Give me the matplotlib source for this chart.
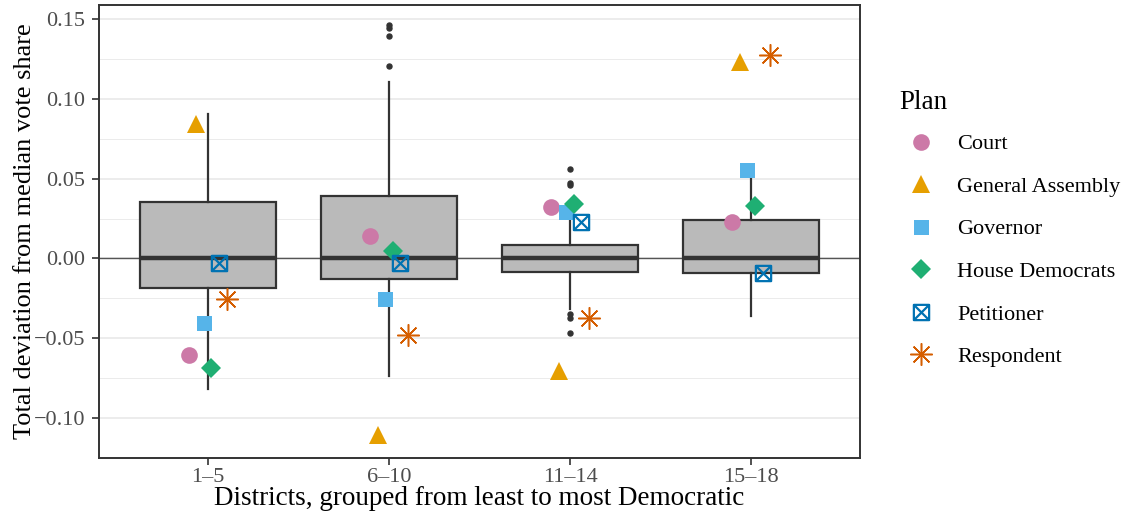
import matplotlib.pyplot as plt
from matplotlib.path import Path
import numpy as np

plt.rcParams['font.family'] = ['Liberation Serif', 'DejaVu Serif']

groups = ['1–5', '6–10', '11–14', '15–18']

# box summaries per district group
q1 = [-0.0188, -0.0131, -0.0083, -0.0094]
q3 = [0.0353, 0.0394, 0.0083, 0.0238]
med = [0.0, 0.0, 0.0, 0.0]
whislo = [-0.0820, -0.0738, -0.0315, -0.0360]
whishi = [0.0906, 0.1106, 0.0300, 0.0556]
fliers = [[],
          [0.1465, 0.1445, 0.1395, 0.1205],
          [0.0560, 0.0472, 0.0458, -0.0345, -0.0375, -0.0465],
          []]

plans = ['Court', 'General Assembly', 'Governor', 'House Democrats',
         'Petitioner', 'Respondent']
court = [-0.0606, 0.0138, 0.0325, 0.0231]
general_assembly = [0.0840, -0.1106, -0.0706, 0.1230]
governor = [-0.0406, -0.0256, 0.0288, 0.0556]
house_democrats = [-0.0688, 0.0044, 0.0344, 0.0331]
petitioner = [-0.0030, -0.0030, 0.0231, -0.0094]
respondent = [-0.0256, -0.0480, -0.0370, 0.1275]
plan_values = [court, general_assembly, governor, house_democrats,
               petitioner, respondent]

colors = ['#CC79A7', '#E69F00', '#56B4E9', '#1FAF73', '#0072B2', '#D55E00']

# square with an X through it
box_x = Path([(-1, -1), (1, -1), (1, 1), (-1, 1), (-1, -1),
              (-1, -1), (1, 1), (-1, 1), (1, -1)],
             [Path.MOVETO, Path.LINETO, Path.LINETO, Path.LINETO, Path.CLOSEPOLY,
              Path.MOVETO, Path.LINETO, Path.MOVETO, Path.LINETO])
markers = ['o', '^', 's', 'D', box_x, (8, 2, 0)]
msizes = [12.0, 13.5, 10.8, 10.0, 11.0, 16.0]
edge_w = [0, 0, 0, 0, 1.6, 1.1]

fig = plt.figure(figsize=(11.25, 5.18), dpi=100)
ax = fig.add_axes([0.088, 0.1158, 0.6764, 0.8745])

x = np.arange(1, len(groups) + 1)

ax.axhline(0, color='#555555', lw=1.0, zorder=1)

stats = []
for i in range(len(groups)):
    stats.append(dict(med=med[i], q1=q1[i], q3=q3[i], whislo=whislo[i],
                      whishi=whishi[i], fliers=fliers[i]))
ax.bxp(stats, positions=x, widths=0.75, patch_artist=True, showcaps=False,
       boxprops=dict(facecolor='#BABABA', edgecolor='#333333', linewidth=1.6),
       medianprops=dict(color='#333333', linewidth=3.2, solid_capstyle='butt'),
       whiskerprops=dict(color='#333333', linewidth=1.6),
       flierprops=dict(marker='o', markersize=3.6, markerfacecolor='#333333',
                       markeredgecolor='#333333'),
       zorder=2)

dodge = 0.25
n = len(plans)
for k, (name, vals) in enumerate(zip(plans, plan_values)):
    off = (k - (n - 1) / 2) * dodge / n
    hollow = edge_w[k] > 0
    ax.plot(x + off, vals, linestyle='none', marker=markers[k],
            markersize=msizes[k], color=colors[k],
            markerfacecolor='none' if hollow else colors[k],
            markeredgecolor=colors[k], markeredgewidth=edge_w[k],
            label=name, zorder=3)

ax.set_xlim(0.4, 4.6)
ax.set_ylim(-0.1244, 0.15875)
ax.set_xticks(x)
ax.set_xticklabels(groups)
ax.set_yticks([-0.10, -0.05, 0.00, 0.05, 0.10, 0.15])
ax.set_yticklabels(['−0.10', '−0.05', '0.00', '0.05', '0.10', '0.15'])
ax.set_yticks(np.arange(-0.125, 0.16, 0.05), minor=True)
ax.grid(axis='y', which='major', color='#EBEBEB', lw=1.3, zorder=0)
ax.grid(axis='y', which='minor', color='#EBEBEB', lw=0.7, zorder=0)
ax.set_axisbelow(True)
ax.tick_params(axis='both', which='major', length=5, width=1.2, color='#333333',
               labelsize=16, labelcolor='#4D4D4D')
ax.tick_params(axis='x', pad=2.5)
ax.tick_params(axis='y', pad=4.7)
ax.tick_params(axis='y', which='minor', length=0)
for s in ax.spines.values():
    s.set_color('#333333')
    s.set_linewidth(1.4)

ax.set_xlabel('Districts, grouped from least to most Democratic',
              fontsize=19.5, labelpad=-1)
ax.set_ylabel('Total deviation from median vote share', fontsize=19,
              labelpad=-1.5)

leg = ax.legend(title='Plan', loc='upper left', bbox_to_anchor=(1.0395, 0.8314),
                frameon=False, fontsize=16, title_fontsize=19.5,
                labelspacing=0.99, handletextpad=0.61, handlelength=2.0,
                alignment='left', borderaxespad=0)
# tighter gap between the legend title and its first entry
leg._legend_box.sep = 0.6 * 16 * fig.dpi / 72

fig.savefig('out.png', dpi=100)
